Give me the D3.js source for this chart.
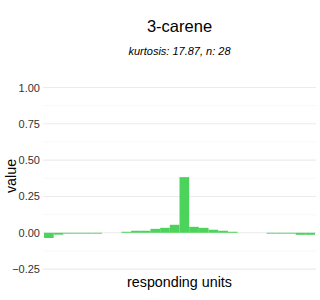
<!DOCTYPE html>
<html>
<head>
<meta charset="utf-8">
<script src="https://cdn.jsdelivr.net/npm/d3@7"></script>
<style>
  body { margin: 0; background: #fff; }
  text { font-family: "Liberation Sans", Arial, sans-serif; }
</style>
</head>
<body>
<div id="chart"></div>
<script>
// data
var units = d3.range(1, 29);
var values = [-0.036, -0.013, -0.006, -0.006, -0.006, -0.006, 0, 0,
              0.007, 0.014, 0.014, 0.027, 0.034, 0.055, 0.383, 0.041,
              0.034, 0.021, 0.014, 0.007, 0, 0, 0, -0.006,
              -0.006, -0.006, -0.014, -0.014];
var majorTicks = [-0.25, 0, 0.25, 0.5, 0.75, 1];
var minorTicks = [-0.125, 0.125, 0.375, 0.625, 0.875];

var width = 320, height = 300;
var left = 43, right = 316;

var svg = d3.select("#chart").append("svg")
    .attr("width", width)
    .attr("height", height);

var x = d3.scaleBand().domain(units).range([44, 315]).padding(0);
var y = d3.scaleLinear().domain([-0.25, 1]).range([269.1, 87.5]);

// grid
svg.append("g").selectAll("line").data(minorTicks).enter().append("line")
    .attr("x1", left).attr("x2", right)
    .attr("y1", function(d){ return y(d); })
    .attr("y2", function(d){ return y(d); })
    .attr("stroke", "#f4f4f4").attr("stroke-width", 0.6);

svg.append("g").selectAll("line").data(majorTicks).enter().append("line")
    .attr("x1", left).attr("x2", right)
    .attr("y1", function(d){ return y(d); })
    .attr("y2", function(d){ return y(d); })
    .attr("stroke", "#ebebeb").attr("stroke-width", 1.1);

// bars
svg.append("g").selectAll("rect").data(values).enter().append("rect")
    .attr("x", function(d, i){ return x(units[i]); })
    .attr("width", x.bandwidth())
    .attr("y", function(d){ return y(Math.max(0, d)); })
    .attr("height", function(d){ return Math.abs(y(d) - y(0)); })
    .attr("fill", "#4cd35c");

// y axis labels
var yAxis = d3.axisLeft(y).tickValues(majorTicks).tickFormat(d3.format(".2f"))
    .tickSize(0).tickPadding(3);
var ga = svg.append("g").attr("transform", "translate(" + left + ",0)").call(yAxis);
ga.select(".domain").remove();
ga.selectAll("text").attr("font-size", "11px").attr("fill", "#333333")
    .attr("font-family", "Liberation Sans, Arial, sans-serif");

// titles
svg.append("text").attr("x", 179.5).attr("y", 32)
    .attr("text-anchor", "middle").attr("font-size", "16.5px").attr("fill", "#000")
    .text("3-carene");

svg.append("text").attr("x", 179.5).attr("y", 55)
    .attr("text-anchor", "middle").attr("font-size", "11px").attr("font-style", "italic")
    .attr("fill", "#000")
    .text("kurtosis: 17.87, n: 28");

svg.append("text").attr("x", 179.5).attr("y", 287)
    .attr("text-anchor", "middle").attr("font-size", "14.3px").attr("fill", "#000")
    .text("responding units");

svg.append("text")
    .attr("transform", "translate(16,176) rotate(-90)")
    .attr("text-anchor", "middle").attr("font-size", "14.3px").attr("fill", "#000")
    .text("value");
</script>
</body>
</html>
